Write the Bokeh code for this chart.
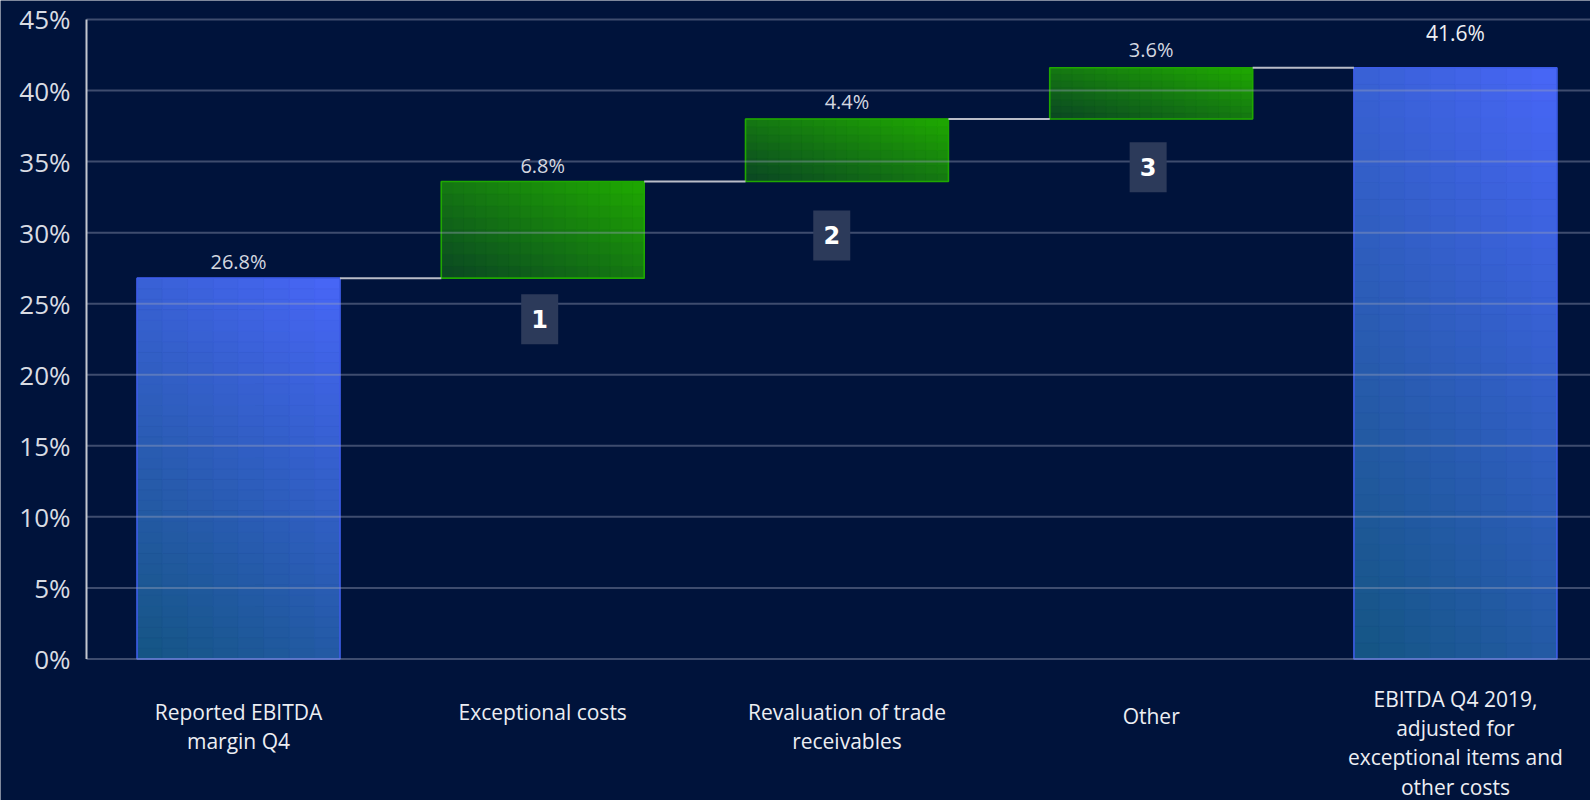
from bokeh.plotting import figure
from bokeh.models import Range1d, ColumnDataSource
from bokeh.embed import file_html
from bokeh.resources import INLINE
from bokeh.core.properties import value

# ---------------- data ----------------
categories = [
    "Reported EBITDA\nmargin Q4",
    "Exceptional costs",
    "Revaluation of trade\nreceivables",
    "Other",
    "EBITDA Q4 2019,\nadjusted for\nexceptional items and\nother costs",
]
kinds = ["total", "delta", "delta", "delta", "total"]
values = [26.8, 6.8, 4.4, 3.6, 41.6]
value_labels = ["26.8%", "6.8%", "4.4%", "3.6%", "41.6%"]
callouts = ["", "1", "2", "3", ""]
y_ticks = [0, 5, 10, 15, 20, 25, 30, 35, 40, 45]
y_tick_labels = ["0%", "5%", "10%", "15%", "20%", "25%", "30%", "35%", "40%", "45%"]

# ---------------- styling ----------------
label_dy = [0, 0, 0, 4, -13]         # small per-label vertical nudges (px)
value_dy = [-3, -2, -4, -5, -21]     # offsets of value labels above bars (px)
callout_drop = [2.9, 3.8, 3.4]       # how far each callout box sits below its bar (axis units)
callout_dx = [-0.01, -0.05, -0.01]   # small horizontal nudges of callout boxes

# ---------------- derived geometry ----------------
bottoms, tops = [], []
running = 0.0
for k, v in zip(kinds, values):
    if k == "total":
        bottoms.append(0.0)
        tops.append(v)
        running = v
    else:
        bottoms.append(running)
        tops.append(running + v)
        running = running + v

xs = list(range(len(categories)))
BAR_W = 0.667

BG = "#00133b"
FONT = "Open Sans"


def lerp_color(c0, c1, t):
    a = [int(c0[i:i + 2], 16) for i in (1, 3, 5)]
    b = [int(c1[i:i + 2], 16) for i in (1, 3, 5)]
    r = [round(a[j] + (b[j] - a[j]) * t) for j in range(3)]
    return "#%02x%02x%02x" % tuple(r)


X0 = -0.4996          # where the value axis sits
X_END = 4.444
p = figure(
    width=1590, height=800,
    x_range=Range1d(-0.7823, X_END), y_range=Range1d(-9.96, 46.337),
    output_backend="svg", toolbar_location=None,
    min_border=0,
)
p.background_fill_color = BG
p.border_fill_color = BG
p.outline_line_color = None
p.axis.visible = False
p.grid.visible = False

# gradient bars (drawn as cells of a diagonal gradient)
cell = dict(left=[], right=[], bottom=[], top=[], color=[])
outline_total = dict(left=[], right=[], bottom=[], top=[])
outline_delta = dict(left=[], right=[], bottom=[], top=[])
for x, b, t, k in zip(xs, bottoms, tops, kinds):
    l, r = x - BAR_W / 2, x + BAR_W / 2
    if k == "total":
        c0, c1, nx, ny, wu, wv = "#145582", "#4866f8", 8, 36, 0.3, 0.7
        tgt = outline_total
    else:
        c0, c1, nx, ny, wu, wv = "#0a4524", "#1faa00", 18, 8, 0.5, 0.5
        tgt = outline_delta
    for i in range(nx):
        for j in range(ny):
            u = (i + 0.5) / nx
            v_ = (j + 0.5) / ny
            cell["left"].append(l + (r - l) * i / nx)
            cell["right"].append(l + (r - l) * (i + 1) / nx)
            cell["bottom"].append(b + (t - b) * j / ny)
            cell["top"].append(b + (t - b) * (j + 1) / ny)
            cell["color"].append(lerp_color(c0, c1, wu * u + wv * v_))
    tgt["left"].append(l)
    tgt["right"].append(r)
    tgt["bottom"].append(b)
    tgt["top"].append(t)

p.quad(left="left", right="right", bottom="bottom", top="top",
       fill_color="color", line_color="color", line_width=0.8,
       source=ColumnDataSource(cell))
p.quad(left="left", right="right", bottom="bottom", top="top",
       fill_color=None, line_color="#3d5ce8", line_width=1.6,
       source=ColumnDataSource(outline_total))
p.quad(left="left", right="right", bottom="bottom", top="top",
       fill_color=None, line_color="#1fa800", line_width=1.6,
       source=ColumnDataSource(outline_delta))

# horizontal grid lines (semi-transparent, over the bars)
p.segment(x0=[X0] * len(y_ticks), x1=[X_END] * len(y_ticks), y0=y_ticks, y1=y_ticks,
          line_color="#9aa3bb", line_alpha=0.4, line_width=2)

# value axis line and its tick labels
p.segment(x0=[X0], x1=[X0], y0=[y_ticks[0]], y1=[y_ticks[-1]],
          line_color="#c3c7d0", line_width=2)
p.text(x=[X0] * len(y_ticks), y=y_ticks, text=y_tick_labels, x_offset=-16,
       text_align="right", text_baseline="middle", text_color="#d9dce3",
       text_font=value(FONT), text_font_size="26px")

# connectors
p.segment(x0=[x + BAR_W / 2 for x in xs[:-1]], x1=[x + 1 - BAR_W / 2 for x in xs[:-1]],
          y0=tops[:-1], y1=tops[:-1], line_color="#b9bdc8", line_width=2)

# value labels
vsrc = ColumnDataSource(dict(x=xs, y=tops, text=value_labels, dy=value_dy,
                             size=["20px", "20px", "20px", "20px", "21px"],
                             color=["#d4d8e0"] * 4 + ["#eef0f4"]))
p.text(x="x", y="y", text="text", y_offset="dy", text_align="center",
       text_baseline="bottom", text_color="color",
       text_font=value(FONT), text_font_size="size", source=vsrc)

# numbered callouts under the delta bars
idx = [i for i, c in enumerate(callouts) if c]
cx = [xs[i] + dx for i, dx in zip(idx, callout_dx)]
cy = [bottoms[i] - d for i, d in zip(idx, callout_drop)]
ct = [callouts[i] for i in idx]
p.rect(x=cx, y=cy, width=37, height=50, width_units="screen", height_units="screen",
       fill_color="#2c3a5a", line_color=None)
p.text(x=cx, y=cy, text=ct, text_align="center", text_baseline="middle",
       text_color="#ffffff", text_font=value("DejaVu Sans"), text_font_style="bold",
       text_font_size="24px")

# category labels below the zero line
csrc = ColumnDataSource(dict(x=xs, y=[-2.72] * len(xs), text=categories, dy=label_dy))
p.text(x="x", y="y", text="text", y_offset="dy", text_align="center",
       text_baseline="top", text_color="#eceef3", text_font=value(FONT),
       text_font_size="21px", text_line_height=1.05, source=csrc)

open("out.html", "w").write(file_html(p, INLINE))
